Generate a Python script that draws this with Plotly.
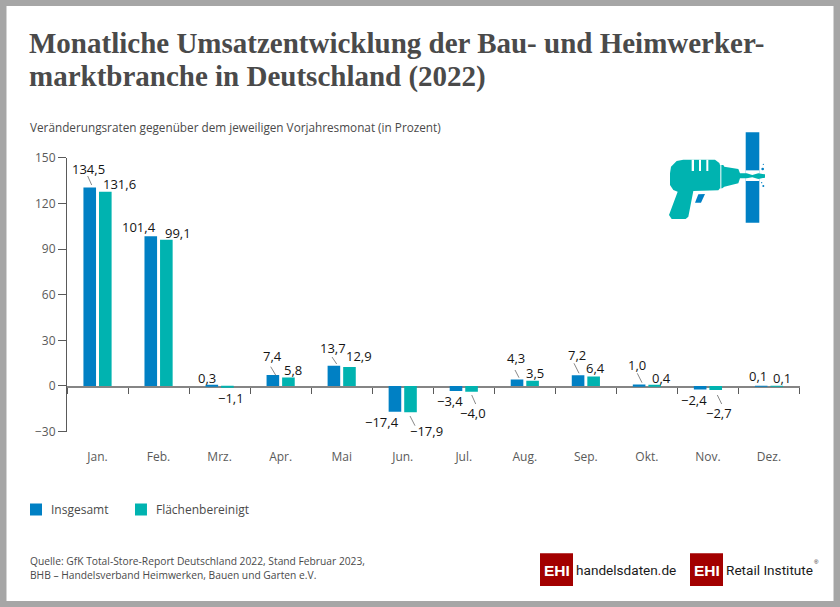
import plotly.graph_objects as go

W, H = 840, 607
months = ["Jan.", "Feb.", "Mrz.", "Apr.", "Mai", "Jun.", "Jul.", "Aug.", "Sep.", "Okt.", "Nov.", "Dez."]
insgesamt = [134.5, 101.4, 0.3, 7.4, 13.7, -17.4, -3.4, 4.3, 7.2, 1.0, -2.4, 0.1]
flaechen = [131.6, 99.1, -1.1, 5.8, 12.9, -17.9, -4.0, 3.5, 6.4, 0.4, -2.7, 0.1]
y_ticks = [-30, 0, 30, 60, 90, 120, 150]

BLUE, TEAL, GREY, DARK = "#0080c4", "#00b3b0", "#5a5a5a", "#141414"
SANS = "Open Sans"
BAR_SCALE = 0.97  # the bars of the original are drawn slightly shorter than the axis scale

def px(x): return x / W
def py(y): return 1 - y / H

def fmt(v):
    return ("\u2212" if v < 0 else "") + f"{abs(v):.1f}".replace(".", ",")

# label centres, pixels
pos_ins = [(88, 169), (139.3, 226.7), (207.3, 377.7), (272, 356), (333, 347.5), (381.7, 422.3),
           (450, 401), (516, 358), (577, 355), (636.7, 365), (694, 400), (757.7, 376)]
pos_fla = [(119.7, 184), (177.8, 233.3), (231, 398), (293.3, 370), (359, 356), (426, 430.7),
           (472.7, 413.3), (535, 373), (595, 368), (661.7, 377.7), (719.3, 412.7), (781.7, 378.3)]
leaders = [((87.7, 176), (91.7, 185)), ((270.7, 366.7), (276, 375.7)), ((332, 357), (336.7, 364)),
           ((410, 416), (415, 425.7)), ((471.7, 395), (475.7, 404)), ((515, 370), (519, 377.7)),
           ((574, 363.3), (579, 373.3)), ((637.3, 373.3), (642, 382.7)), ((717.3, 395), (721.7, 404))]

fig = go.Figure()
# carries the scale axis and the month labels
fig.add_scatter(x=months, y=[None] * 12, xaxis="x", yaxis="y", showlegend=False, hoverinfo="skip", mode="markers")
fig.add_bar(x=months, y=insgesamt, name="Insgesamt", marker=dict(color=BLUE, line_width=0),
            xaxis="x2", yaxis="y2", hoverinfo="skip")
fig.add_bar(x=months, y=flaechen, name="Flächenbereinigt", marker=dict(color=TEAL, line_width=0),
            xaxis="x2", yaxis="y2", hoverinfo="skip")

annotations = []
def text(x, y, s, size=12, color=DARK, family=SANS, anchor="left", weight=None):
    f = dict(size=size, color=color, family=family)
    if weight:
        f["weight"] = weight
    annotations.append(dict(xref="paper", yref="paper", x=px(x), y=py(y), text=s, showarrow=False,
                            xanchor=anchor, yanchor="middle", align="left", font=f,
                            borderpad=0, borderwidth=0))

TITLE = "Liberation Serif"
text(29, 43, "<b>Monatliche Umsatzentwicklung der Bau- und Heimwerker-</b>", 29, "#4a4a4a", TITLE)
text(29, 76.5, "<b>marktbranche in Deutschland (2022)</b>", 29, "#4a4a4a", TITLE)
text(30, 127, "Veränderungsraten gegenüber dem jeweiligen Vorjahresmonat (in Prozent)", 11.75, "#4a4a4a")
text(30, 561, "Quelle: GfK Total-Store-Report Deutschland 2022, Stand Februar 2023,", 10.25, "#4a4a4a")
text(30, 575, "BHB \u2013 Handelsverband Heimwerken, Bauen und Garten e.V.", 10.25, "#4a4a4a")

for vals, pos in ((insgesamt, pos_ins), (flaechen, pos_fla)):
    for v, (x, y) in zip(vals, pos):
        text(x, y, fmt(v), 13, DARK, SANS, "center", 500)

# logos
RED = "#a30000"
text(556.5, 570, "<b>EHI</b>", 15.5, "white", "Liberation Sans", "center")
text(706.5, 570, "<b>EHI</b>", 15.5, "white", "Liberation Sans", "center")
text(576, 570, 'handelsdaten<span style="color:#c00000">.</span>de', 13.6, "#1a1a1a", "Roboto")
text(726, 570, "Retail Institute", 13.6, "#1a1a1a", "Roboto")
text(816, 562, "®", 6, "#1a1a1a", "Liberation Sans", "center")

def rect(x0, y0, x1, y1, color, layer="above"):
    return dict(type="rect", xref="paper", yref="paper", x0=px(x0), x1=px(x1), y0=py(y0), y1=py(y1),
                fillcolor=color, line_width=0, layer=layer)

def ix(a): return 665 + a / 3
def iy(b): return 155 + b / 3

def poly(zoom_points, color):
    d = "M" + " L".join(f"{px(ix(a)):.5f},{py(iy(b)):.5f}" for a, b in zoom_points) + " Z"
    return dict(type="path", xref="paper", yref="paper", path=d, fillcolor=color, line_width=0, layer="above")

def dot(a, b, r):
    return dict(type="circle", xref="paper", yref="paper", x0=px(ix(a - r)), x1=px(ix(a + r)),
                y0=py(iy(b - r)), y1=py(iy(b + r)), fillcolor=BLUE, line_width=0, layer="above")

shapes = [rect(6.5, 6, 833.5, 601, "white", "below")]
for (a, b) in leaders:
    shapes.append(dict(type="line", xref="paper", yref="paper", x0=px(a[0]), y0=py(a[1]), x1=px(b[0]), y1=py(b[1]),
                       line=dict(color="#6a6a6a", width=0.8), layer="above"))
shapes += [rect(540, 553.3, 573, 586, RED, "below"), rect(690, 553.3, 723, 586, RED, "below")]

# drill icon
shapes += [
    rect(745.7, 132.3, 759.3, 222.7, BLUE),
    rect(745.7, iy(46), 759.3, iy(78), "white"),
    poly([(15, 55), (18, 35), (35, 18), (55, 14), (150, 14), (163, 24), (165, 30), (175, 30), (178, 35), (220, 42),
          (225, 55), (245, 55), (262, 60), (280, 55), (300, 58), (300, 68), (280, 72), (262, 67), (245, 70), (225, 70),
          (220, 85), (178, 95), (172, 100), (165, 100), (160, 106), (85, 108), (70, 185), (62, 192), (20, 192),
          (12, 180), (38, 110), (25, 105), (15, 90)], TEAL),
    poly([(80, 14), (87, 14), (87, 48), (80, 48)], "white"),
    poly([(102, 14), (108, 14), (108, 48), (102, 48)], "white"),
    poly([(124, 14), (130, 14), (130, 48), (124, 48)], "white"),
    poly([(166, 30), (169, 30), (169, 100), (166, 100)], "white"),
    poly([(90, 143), (100, 118), (120, 117), (108, 143)], BLUE),
    dot(295, 28, 2), dot(293, 42, 4), dot(290, 83, 2), dot(295, 93, 3),
]

dom_x = [px(67), px(799.5)]
dom_y = [py(431.6), py(157.7)]
fig.update_layout(
    width=W, height=H, margin=dict(l=0, r=0, t=0, b=0, autoexpand=False), autosize=False,
    paper_bgcolor="#a6a6a6", plot_bgcolor="rgba(0,0,0,0)",
    barmode="group", bargap=0.49, bargroupgap=0.19,
    separators=",.", hovermode=False,
    font=dict(family=SANS, color=GREY, size=12),
    annotations=annotations, shapes=shapes,
    xaxis=dict(domain=dom_x, anchor="y", type="category", categoryorder="array", categoryarray=months,
               range=[-0.5, 11.5], showline=False, showgrid=False, zeroline=False, ticks="", ticklabelstandoff=16,
               tickfont=dict(size=12, color=GREY, family=SANS)),
    xaxis2=dict(domain=dom_x, overlaying="x", anchor="free", position=py(386.7), type="category",
                categoryorder="array", categoryarray=months, tickson="boundaries", range=[-0.5, 11.5],
                showline=True, linecolor="#858585", linewidth=1.6, showticklabels=False, layer="below traces",
                ticks="outside", ticklen=6, tickwidth=1, tickcolor=GREY, showgrid=False, zeroline=False),
    yaxis=dict(domain=dom_y, anchor="x", range=[-30, 150], tickvals=y_ticks, showline=True, linecolor=GREY,
               linewidth=1, ticks="outside", ticklen=8, tickwidth=1, tickcolor=GREY, showgrid=False, zeroline=False,
               tickfont=dict(size=12, color=GREY, family=SANS)),
    yaxis2=dict(domain=dom_y, anchor="x2", overlaying="y", range=[-30 / BAR_SCALE, 150 / BAR_SCALE], visible=False),
    legend=dict(orientation="h", x=16 / W, y=py(495), xanchor="left", yanchor="top", bgcolor="rgba(0,0,0,0)",
                font=dict(size=12, color="#4a4a4a", family=SANS), traceorder="normal",
                itemclick=False, itemdoubleclick=False),
)
fig.write_html("out.html", config=dict(displayModeBar=False),
               post_script="document.body.style.margin='0';document.body.style.overflow='hidden';"
                           "document.querySelectorAll('.legendtext').forEach(function(t){"
                           "t.setAttribute('x',parseFloat(t.getAttribute('x'))-5);});"
                           "var tr=document.querySelectorAll('.legend .traces');"
                           "if(tr.length>1){var m=tr[1].getAttribute('transform').match(/translate\\(([-\\d.]+),\\s*([-\\d.]+)\\)/);"
                           "if(m){tr[1].setAttribute('transform','translate('+(parseFloat(m[1])+2.5)+','+m[2]+')');}}")
